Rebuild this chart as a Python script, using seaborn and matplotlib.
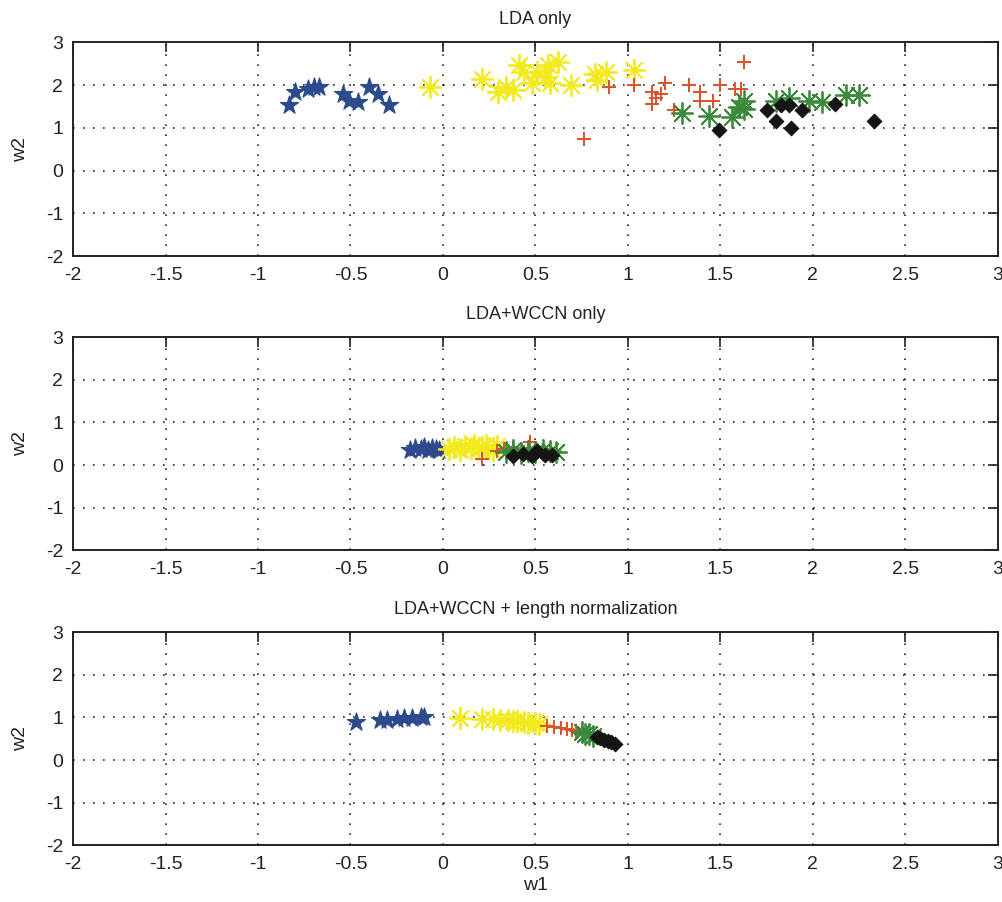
import numpy as np
import pandas as pd
import matplotlib
matplotlib.use("Agg")
import matplotlib.pyplot as plt
import seaborn as sns

# --- LDA only ---
lda_blue_x = [-0.83, -0.80, -0.73, -0.70, -0.67, -0.54, -0.51, -0.46, -0.40, -0.35, -0.29]
lda_blue_y = [1.53, 1.83, 1.92, 1.95, 1.95, 1.80, 1.64, 1.60, 1.95, 1.80, 1.53]
lda_yellow_x = [-0.07, 0.21, 0.30, 0.34, 0.38, 0.41, 0.44, 0.48, 0.51, 0.55, 0.57, 0.62, 0.58, 0.69, 0.82, 0.83, 0.88, 1.03]
lda_yellow_y = [1.95, 2.15, 1.83, 1.95, 1.88, 2.46, 2.30, 2.04, 2.30, 2.18, 2.46, 2.54, 2.04, 2.00, 2.27, 2.11, 2.30, 2.35]
lda_red_x = [0.76, 0.90, 1.03, 1.13, 1.13, 1.15, 1.18, 1.20, 1.25, 1.33, 1.39, 1.39, 1.46, 1.50, 1.58, 1.61, 1.63]
lda_red_y = [0.75, 1.95, 2.00, 1.83, 1.57, 1.71, 1.80, 2.04, 1.41, 2.00, 1.83, 1.64, 1.64, 2.00, 1.92, 1.92, 2.54]
lda_green_x = [1.29, 1.44, 1.56, 1.60, 1.63, 1.63, 1.80, 1.87, 1.98, 2.05, 2.18, 2.25]
lda_green_y = [1.36, 1.29, 1.25, 1.48, 1.64, 1.45, 1.64, 1.69, 1.64, 1.60, 1.76, 1.76]
lda_black_x = [1.49, 1.75, 1.80, 1.83, 1.87, 1.88, 1.94, 2.12, 2.33]
lda_black_y = [0.94, 1.41, 1.17, 1.53, 1.53, 0.99, 1.41, 1.57, 1.17]

# --- LDA+WCCN only ---
wccn_blue_x = [-0.18, -0.15, -0.12, -0.10, -0.08, -0.06, -0.04, -0.02]
wccn_blue_y = [0.36, 0.40, 0.38, 0.42, 0.36, 0.40, 0.38, 0.36]
wccn_yellow_x = [0.03, 0.06, 0.09, 0.12, 0.15, 0.17, 0.19, 0.21, 0.23, 0.25, 0.27, 0.29]
wccn_yellow_y = [0.38, 0.42, 0.36, 0.44, 0.40, 0.46, 0.38, 0.42, 0.48, 0.40, 0.36, 0.44]
wccn_red_x = [0.21, 0.29, 0.33, 0.38, 0.44, 0.47, 0.47]
wccn_red_y = [0.15, 0.33, 0.38, 0.40, 0.30, 0.55, 0.35]
wccn_green_x = [0.34, 0.38, 0.42, 0.46, 0.50, 0.54, 0.58, 0.61]
wccn_green_y = [0.30, 0.36, 0.28, 0.34, 0.30, 0.36, 0.32, 0.30]
wccn_black_x = [0.38, 0.43, 0.48, 0.51, 0.55, 0.59]
wccn_black_y = [0.22, 0.26, 0.22, 0.32, 0.24, 0.24]

# --- LDA+WCCN + length normalization ---
norm_blue_x = [-0.47, -0.34, -0.30, -0.25, -0.21, -0.17, -0.12, -0.10]
norm_blue_y = [0.90, 0.94, 0.95, 0.97, 0.98, 0.99, 1.00, 1.00]
norm_yellow_x = [0.09, 0.21, 0.27, 0.31, 0.35, 0.38, 0.40, 0.44, 0.46, 0.50, 0.52]
norm_yellow_y = [0.99, 0.96, 0.96, 0.95, 0.93, 0.92, 0.91, 0.89, 0.88, 0.86, 0.84]
norm_red_x = [0.56, 0.60, 0.64, 0.67, 0.70, 0.72]
norm_red_y = [0.80, 0.78, 0.76, 0.73, 0.70, 0.68]
norm_green_x = [0.75, 0.77, 0.79, 0.81]
norm_green_y = [0.65, 0.62, 0.60, 0.57]
norm_black_x = [0.83, 0.85, 0.87, 0.89, 0.91, 0.93]
norm_black_y = [0.54, 0.51, 0.48, 0.45, 0.42, 0.38]

titles = ["LDA only", "LDA+WCCN only", "LDA+WCCN + length normalization"]
x_ticks = [-2, -1.5, -1, -0.5, 0, 0.5, 1, 1.5, 2, 2.5, 3]
x_tick_labels = ["-2", "-1.5", "-1", "-0.5", "0", "0.5", "1", "1.5", "2", "2.5", "3"]
y_ticks = [-2, -1, 0, 1, 2, 3]
y_tick_labels = ["-2", "-1", "0", "1", "2", "3"]

panels = [
    [(lda_blue_x, lda_blue_y), (lda_yellow_x, lda_yellow_y), (lda_red_x, lda_red_y),
     (lda_green_x, lda_green_y), (lda_black_x, lda_black_y)],
    [(wccn_blue_x, wccn_blue_y), (wccn_yellow_x, wccn_yellow_y), (wccn_red_x, wccn_red_y),
     (wccn_green_x, wccn_green_y), (wccn_black_x, wccn_black_y)],
    [(norm_blue_x, norm_blue_y), (norm_yellow_x, norm_yellow_y), (norm_red_x, norm_red_y),
     (norm_green_x, norm_green_y), (norm_black_x, norm_black_y)],
]

# marker style per speaker class: (marker, colour, size, linewidth)
styles = [
    ("*", "#2e4a8e", 190, 0.8),
    ((8, 2, 0), "#f2ea1c", 240, 1.3),
    ("+", "#d8532a", 100, 1.4),
    ((8, 2, 0), "#3b8a3b", 230, 1.3),
    ("D", "#151515", 55, 0.8),
]

sns.set_style("white")
plt.rcParams["font.family"] = ["Liberation Sans", "DejaVu Sans"]

fig = plt.figure(figsize=(10.02, 9.02), dpi=100)
axes_rects = [
    [0.0729, 0.716, 0.923, 0.237],
    [0.0729, 0.390, 0.923, 0.236],
    [0.0729, 0.063, 0.923, 0.236],
]

for i, (rect, groups) in enumerate(zip(axes_rects, panels)):
    ax = fig.add_axes(rect)
    for (xs, ys), (mk, col, sz, lw) in zip(groups, styles):
        df = pd.DataFrame({"w1": xs, "w2": ys})
        filled = mk in ("*", "D")
        kws = dict(edgecolor=col) if filled else {}
        sns.scatterplot(data=df, x="w1", y="w2", marker=mk, color=col, s=sz,
                        linewidth=lw, ax=ax, legend=False, zorder=3, **kws)
    ax.set_xlim(-2, 3)
    ax.set_ylim(-2, 3)
    ax.set_xticks(x_ticks)
    ax.set_xticklabels(x_tick_labels)
    ax.set_yticks(y_ticks)
    ax.set_yticklabels(y_tick_labels)
    ax.grid(True, color="black", linestyle=(0, (1, 5)), linewidth=1.2, alpha=0.85)
    ax.tick_params(direction="in", length=7, width=1.2, top=True, right=True,
                   labelsize=14, colors="#222222")
    ax.tick_params(axis="x", pad=8)
    ax.tick_params(axis="y", pad=7)
    for sp in ax.spines.values():
        sp.set_visible(True)
        sp.set_color("#222222")
        sp.set_linewidth(1.4)
    ax.set_title(titles[i], fontsize=13, color="#222222", pad=13)
    ax.set_ylabel("w2", fontsize=14, color="#222222", labelpad=12)
    if i == 2:
        ax.set_xlabel("w1", fontsize=14, color="#222222", labelpad=3)
    else:
        ax.set_xlabel("")

fig.savefig("out.png", dpi=100)
